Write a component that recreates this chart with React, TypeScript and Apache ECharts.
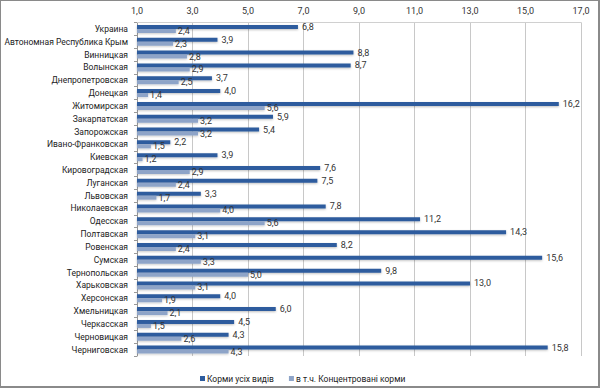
import React, { useEffect, useRef } from "react";
import * as echarts from "echarts";

const categories = [
  "Украина",
  "Автономная Республика Крым",
  "Винницкая",
  "Волынская",
  "Днепропетровская",
  "Донецкая",
  "Житомирская",
  "Закарпатская",
  "Запорожская",
  "Ивано-Франковская",
  "Киевская",
  "Кировоградская",
  "Луганская",
  "Львовская",
  "Николаевская",
  "Одесская",
  "Полтавская",
  "Ровенская",
  "Сумская",
  "Тернопольская",
  "Харьковская",
  "Херсонская",
  "Хмельницкая",
  "Черкасская",
  "Черновицкая",
  "Черниговская",
];

const allFeed = [6.8, 3.9, 8.8, 8.7, 3.7, 4.0, 16.2, 5.9, 5.4, 2.2, 3.9, 7.6, 7.5, 3.3, 7.8, 11.2, 14.3, 8.2, 15.6, 9.8, 13.0, 4.0, 6.0, 4.5, 4.3, 15.8];
const concFeed = [2.4, 2.3, 2.8, 2.9, 2.5, 1.4, 5.6, 3.2, 3.2, 1.5, 1.2, 2.9, 2.4, 1.7, 4.0, 5.6, 3.1, 2.4, 3.3, 5.0, 3.1, 1.9, 2.1, 1.5, 2.6, 4.3];

const seriesNames = ["Корми усіх видів", "в т.ч. Концентровані корми"];

const fmt = (v: number) => v.toFixed(1).replace(".", ",");

export default function App() {
  const ref = useRef<HTMLDivElement>(null);
  useEffect(() => {
    if (!ref.current) return;
    const chart = echarts.init(ref.current, undefined, { renderer: "svg" });
    const font = "Roboto, sans-serif";
    chart.setOption({
      animation: false,
      textStyle: { fontFamily: font },
      grid: { left: 137, right: 19, top: 22.5, bottom: 32, containLabel: false, outerBoundsMode: "none" },
      legend: {
        left: 195,
        top: 369,
        icon: "rect",
        itemWidth: 5,
        itemHeight: 5,
        itemGap: 15,
        textStyle: { fontSize: 8.5, color: "#222", fontFamily: font, padding: [0, 0, 0, -3] },
        data: seriesNames,
      },
      xAxis: {
        type: "value",
        position: "top",
        min: 1,
        max: 17,
        interval: 2,
        axisLine: { show: true, lineStyle: { color: "#d0d0d0" } },
        axisTick: { show: false },
        axisLabel: { formatter: (v: number) => fmt(v), fontSize: 9, color: "#333", margin: 7 },
        splitLine: { show: true, lineStyle: { color: "#c8c8c8" } },
      },
      yAxis: {
        type: "category",
        inverse: true,
        data: categories,
        axisLine: { show: true, lineStyle: { color: "#999" } },
        axisTick: { show: true, length: 3, lineStyle: { color: "#999" } },
        axisLabel: { interval: 0, fontSize: 8.5, color: "#222", margin: 9 },
      },
      series: [
        {
          name: seriesNames[0],
          type: "bar",
          data: allFeed,
          barWidth: 4,
          barGap: "0%",
          itemStyle: { color: "#2d5c9e", shadowColor: "rgba(0,0,0,0.25)", shadowBlur: 2, shadowOffsetY: 1 },
          label: { show: true, position: "right", distance: 4, formatter: (p: any) => fmt(p.value), fontSize: 9, color: "#333" },
        },
        {
          name: seriesNames[1],
          type: "bar",
          data: concFeed,
          barWidth: 4,
          itemStyle: { color: "#8ea4c8", shadowColor: "rgba(0,0,0,0.2)", shadowBlur: 2, shadowOffsetY: 1 },
          label: { show: true, position: "right", distance: 2, formatter: (p: any) => fmt(p.value), fontSize: 9, color: "#333" },
        },
      ],
    });
    return () => chart.dispose();
  }, []);
  return (
    <div style={{ position: "fixed", left: 0, top: 0, width: 600, height: 388, background: "#fff" }}>
      <div ref={ref} style={{ width: 600, height: 388 }} />
      <div style={{ position: "absolute", left: 0, top: 0, width: 597, height: 385, border: "1px solid #8a8a8a", borderRightWidth: 2, borderBottomWidth: 2, pointerEvents: "none" }} />
    </div>
  );
}
